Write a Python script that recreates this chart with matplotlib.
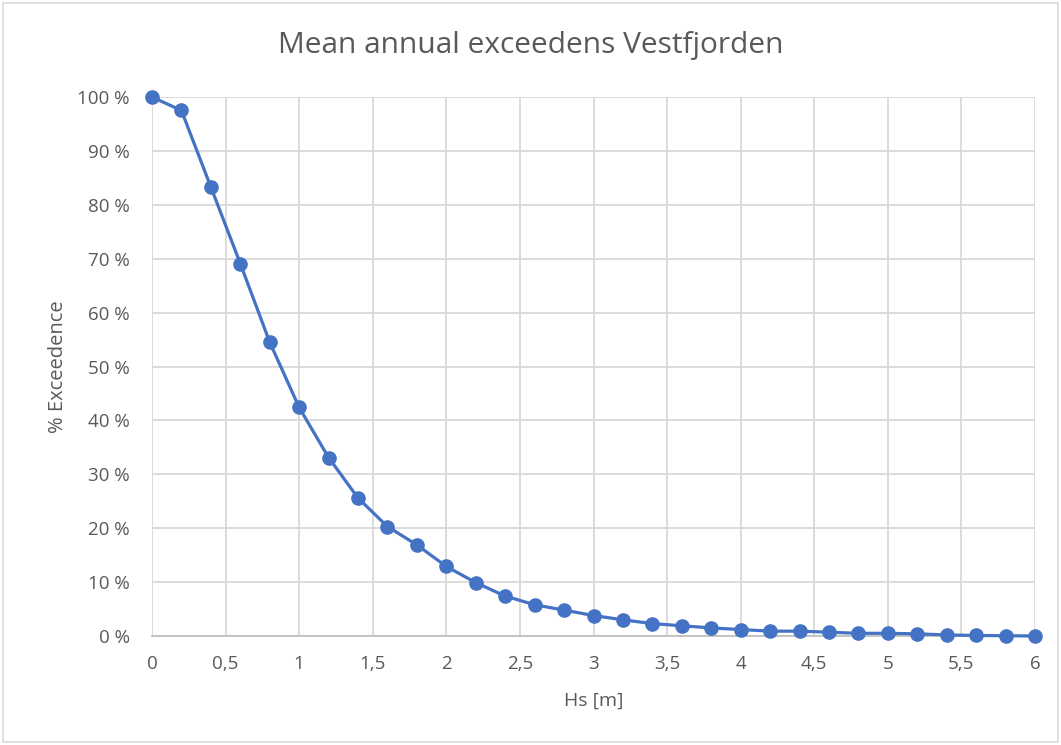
import matplotlib
matplotlib.use("Agg")
import matplotlib.pyplot as plt
from matplotlib.patches import Rectangle
from matplotlib.ticker import FuncFormatter, MultipleLocator

# Significant wave height [m] and mean annual exceedance [%]
hs = [0.0, 0.2, 0.4, 0.6, 0.8, 1.0, 1.2, 1.4, 1.6, 1.8, 2.0, 2.2, 2.4, 2.6, 2.8,
      3.0, 3.2, 3.4, 3.6, 3.8, 4.0, 4.2, 4.4, 4.6, 4.8, 5.0, 5.2, 5.4, 5.6, 5.8, 6.0]
exceedance = [100.0, 97.5, 83.3, 69.1, 54.5, 42.4, 33.1, 25.6, 20.3, 16.9, 12.9,
              9.9, 7.4, 5.8, 4.8, 3.8, 3.0, 2.3, 1.9, 1.5, 1.2, 0.9, 0.9, 0.7,
              0.5, 0.5, 0.4, 0.2, 0.1, 0.05, 0.0]

title = "Mean annual exceedens Vestfjorden"
xlabel = "Hs [m]"
ylabel = "% Exceedence"

plt.rcParams["font.family"] = ["Open Sans", "DejaVu Sans"]
text_color = "#595959"
grid_color = "#d9d9d9"
line_color = "#4472C4"

fig = plt.figure(figsize=(10.61, 7.45), dpi=100)
ax = fig.add_axes([152 / 1061, 1 - 636 / 745, (1035 - 152) / 1061, (636 - 97) / 745])

ax.plot(hs, exceedance, color=line_color, lw=2.3, marker="o", ms=9.5,
        markerfacecolor=line_color, markeredgecolor=line_color, zorder=3,
        clip_on=False)

ax.set_xlim(0, 6)
ax.set_ylim(0, 100)
ax.xaxis.set_major_locator(MultipleLocator(0.5))
ax.yaxis.set_major_locator(MultipleLocator(10))
ax.xaxis.set_major_formatter(FuncFormatter(lambda v, p: f"{v:g}".replace(".", ",")))
ax.yaxis.set_major_formatter(FuncFormatter(lambda v, p: f"{v:.0f} %"))

ax.grid(True, color=grid_color, lw=1.3, zorder=0)
ax.set_axisbelow(True)
for side in ("top", "right", "left"):
    ax.spines[side].set_visible(False)
ax.spines["bottom"].set_color("#bfbfbf")
ax.spines["bottom"].set_linewidth(1.3)

ax.tick_params(axis="both", length=0, labelsize=13.5, colors=text_color)
ax.tick_params(axis="x", pad=13.5)
ax.tick_params(axis="y", pad=16)

ax.set_xlabel(xlabel, fontsize=14, color=text_color, labelpad=14)
ax.set_ylabel(ylabel, fontsize=14.5, color=text_color, labelpad=7)

fig.text(0.5, 1 - 46 / 745, title, ha="center", va="center", fontsize=21.5,
         color=text_color)

# Light frame round the chart area
fig.patches.append(Rectangle((3 / 1061, 3 / 745), 1 - 6 / 1061, 1 - 6 / 745,
                             transform=fig.transFigure, fill=False,
                             edgecolor="#d9d9d9", lw=1.2))

fig.savefig("out.png", dpi=100)
